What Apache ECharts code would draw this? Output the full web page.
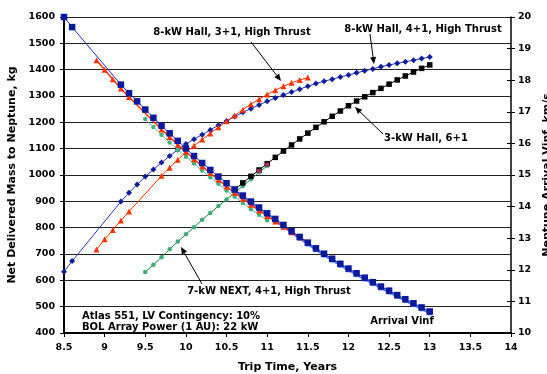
<!DOCTYPE html>
<html>
<head>
<meta charset="utf-8">
<script src="https://cdn.jsdelivr.net/npm/echarts@6/dist/echarts.min.js"></script>
<style>
  html, body { margin: 0; padding: 0; background: #fff; }
  #chart { width: 547px; height: 374px; }
</style>
</head>
<body>
<div id="chart"></div>
<script>
// Trip time (years) and delivered mass (kg) / arrival Vinf (km/s) per configuration

// 8-kW Hall, 4+1, High Thrust
const t41 = [8.5, 8.6, 9.2, 9.3, 9.4, 9.5, 9.6, 9.7, 9.8, 9.9, 10.0, 10.1, 10.2, 10.3, 10.4, 10.5,
  10.6, 10.7, 10.8, 10.9, 11.0, 11.1, 11.2, 11.3, 11.4, 11.5, 11.6, 11.7, 11.8, 11.9, 12.0, 12.1,
  12.2, 12.3, 12.4, 12.5, 12.6, 12.7, 12.8, 12.9, 13.0];
const mass41 = [633, 673, 899, 933, 964, 994, 1021, 1047, 1072, 1096, 1118, 1136, 1153, 1171, 1189, 1205,
  1222, 1238, 1252, 1266, 1280, 1292, 1304, 1315, 1326, 1337, 1347, 1356, 1364, 1372, 1380, 1388,
  1396, 1403, 1411, 1418, 1424, 1430, 1436, 1442, 1448];
const vinf41 = [20.0, 19.68, 17.86, 17.59, 17.33, 17.07, 16.81, 16.56, 16.32, 16.08, 15.84, 15.60, 15.38, 15.16, 14.95, 14.74,
  14.54, 14.35, 14.16, 13.97, 13.79, 13.61, 13.42, 13.22, 13.04, 12.86, 12.68, 12.51, 12.35, 12.19, 12.04, 11.89,
  11.75, 11.61, 11.47, 11.34, 11.20, 11.07, 10.94, 10.81, 10.68];

// 8-kW Hall, 3+1, High Thrust
const t31 = [8.9, 9.0, 9.1, 9.2, 9.3, 9.7, 9.8, 9.9, 10.0, 10.1, 10.2, 10.3, 10.4, 10.5, 10.6, 10.7,
  10.8, 10.9, 11.0, 11.1, 11.2, 11.3, 11.4, 11.5];
const mass31 = [717, 756, 791, 827, 861, 997, 1028, 1058, 1087, 1111, 1135, 1158, 1181, 1204, 1226, 1248,
  1269, 1288, 1306, 1322, 1337, 1350, 1361, 1370];
const vinf31 = [18.63, 18.33, 18.03, 17.74, 17.47, 16.44, 16.20, 15.96, 15.73, 15.50, 15.28, 15.06, 14.85, 14.64, 14.44, 14.25,
  14.06, 13.88, 13.70, 13.53, 13.36, 13.19, 13.03, 12.87];

// 7-kW NEXT, 4+1, High Thrust
const tNext = [9.5, 9.6, 9.7, 9.8, 9.9, 10.0, 10.1, 10.2, 10.3, 10.4, 10.5, 10.6, 10.7, 10.8, 10.9, 11.0];
const massNext = [632, 659, 688, 718, 747, 775, 802, 830, 856, 882, 907, 932, 958, 984, 1010, 1035];
const vinfNext = [16.77, 16.52, 16.27, 16.03, 15.80, 15.58, 15.36, 15.14, 14.93, 14.72, 14.51, 14.31, 14.11, 13.92, 13.74, 13.57];
// NEXT end points drawn in magenta
const tNextEnd = [10.9, 11.0];
const massNextEnd = [1015, 1040];

// 3-kW Hall, 6+1
const t61 = [10.6, 10.7, 10.8, 10.9, 11.0, 11.1, 11.2, 11.3, 11.4, 11.5, 11.6, 11.7, 11.8, 11.9, 12.0, 12.1,
  12.2, 12.3, 12.4, 12.5, 12.6, 12.7, 12.8, 12.9, 13.0];
const mass61 = [945, 970, 995, 1019, 1043, 1067, 1091, 1114, 1137, 1159, 1181, 1202, 1223, 1243, 1263, 1281,
  1297, 1313, 1329, 1345, 1361, 1376, 1391, 1405, 1418];
const vinf61 = [14.49, 14.30, 14.11, 13.92, 13.74, 13.56, 13.37, 13.17, 12.99, 12.81, 12.63, 12.46, 12.30, 12.14, 11.99, 11.84,
  11.70, 11.56, 11.42, 11.29, 11.15, 11.02, 10.89, 10.76, 10.63];

// Axis ticks
const xTicks = { min: 8.5, max: 14, step: 0.5 };
const massTicks = { min: 400, max: 1600, step: 100 };
const vinfTicks = { min: 10, max: 20, step: 1 };

const pairs = (xs, ys) => xs.map((x, i) => [x, ys[i]]);
const plain = v => String(v);

const FONT = 'DejaVu Sans';
const chart = echarts.init(document.getElementById('chart'), null, { renderer: 'canvas' });

const tickLabel = { fontFamily: FONT, fontWeight: 'bold', fontSize: 9.5, color: '#000', formatter: plain };
const axisName = { fontFamily: FONT, fontWeight: 'bold', fontSize: 11, color: '#000' };

chart.setOption({
  animation: false,
  backgroundColor: '#fff',
  grid: { left: 64, right: 36, top: 17, bottom: 41, containLabel: false, outerBoundsMode: 'none' },
  xAxis: {
    type: 'value', min: xTicks.min, max: xTicks.max, interval: xTicks.step,
    name: 'Trip Time, Years', nameLocation: 'middle', nameGap: 29, nameTextStyle: axisName,
    axisLine: { lineStyle: { color: '#000', width: 2 } },
    axisTick: { show: true, length: 4, lineStyle: { color: '#000' } },
    axisLabel: Object.assign({ margin: 10 }, tickLabel),
    splitLine: { show: false }
  },
  yAxis: [
    {
      type: 'value', min: massTicks.min, max: massTicks.max, interval: massTicks.step, position: 'left',
      name: 'Net Delivered Mass to Neptune, kg', nameLocation: 'middle', nameGap: 39, nameRotate: 90,
      nameTextStyle: axisName,
      axisLine: { show: true, lineStyle: { color: '#000', width: 2 } },
      axisTick: { show: true, length: 4, lineStyle: { color: '#000' } },
      axisLabel: Object.assign({ margin: 9 }, tickLabel),
      splitLine: { show: true, lineStyle: { color: '#222', width: 1 } }
    },
    {
      type: 'value', min: vinfTicks.min, max: vinfTicks.max, interval: vinfTicks.step, position: 'right',
      name: 'Neptune Arrival Vinf, km/s', nameLocation: 'middle', nameGap: 31, nameRotate: 90,
      nameTextStyle: axisName,
      axisLine: { show: true, lineStyle: { color: '#000', width: 1.5 } },
      axisTick: { show: true, length: 4, lineStyle: { color: '#000' } },
      axisLabel: Object.assign({ margin: 7 }, tickLabel),
      splitLine: { show: false }
    },
    {
      // inward half of the crossing tick marks on the right axis
      type: 'value', min: vinfTicks.min, max: vinfTicks.max, interval: vinfTicks.step, position: 'right',
      axisLine: { show: false },
      axisTick: { show: true, inside: true, length: 4, lineStyle: { color: '#000' } },
      axisLabel: { show: false },
      splitLine: { show: false }
    }
  ],
  series: [
    {
      name: '8-kW Hall, 4+1 mass', type: 'line', yAxisIndex: 0, data: pairs(t41, mass41),
      lineStyle: { color: '#2538B0', width: 1 }, symbol: 'diamond', symbolSize: 6,
      itemStyle: { color: '#0D1F9A' }, z: 3
    },
    {
      name: '8-kW Hall, 3+1 mass', type: 'line', yAxisIndex: 0, data: pairs(t31, mass31),
      lineStyle: { color: '#FF3300', width: 1 }, symbol: 'triangle', symbolSize: 6,
      itemStyle: { color: '#FF3300' }, z: 3
    },
    {
      name: '7-kW NEXT mass', type: 'line', yAxisIndex: 0, data: pairs(tNext, massNext),
      lineStyle: { color: '#138A2E', width: 1 }, symbol: 'circle', symbolSize: 4.5,
      itemStyle: { color: '#3DAA78' }, z: 3
    },
    {
      name: '3-kW Hall, 6+1 mass', type: 'line', yAxisIndex: 0, data: pairs(t61, mass61),
      lineStyle: { color: '#000', width: 1 }, symbol: 'rect', symbolSize: 5.5,
      itemStyle: { color: '#000' }, z: 3
    },
    {
      name: 'NEXT end points', type: 'scatter', yAxisIndex: 0, data: pairs(tNextEnd, massNextEnd),
      symbol: 'circle', symbolSize: 4.5, itemStyle: { color: '#E8307E' }, z: 4
    },
    {
      name: '7-kW NEXT Vinf', type: 'line', yAxisIndex: 1, data: pairs(tNext, vinfNext),
      lineStyle: { color: '#5CC08A', width: 1 }, symbol: 'circle', symbolSize: 4.5,
      itemStyle: { color: '#46B07E' }, z: 3
    },
    {
      name: '3-kW Hall, 6+1 Vinf', type: 'line', yAxisIndex: 1, data: pairs(t61, vinf61),
      lineStyle: { color: '#4C78FF', width: 2 }, symbol: 'rect', symbolSize: 4.5,
      itemStyle: { color: '#4C78FF' }, z: 3
    },
    {
      name: '8-kW Hall, 3+1 Vinf', type: 'line', yAxisIndex: 1, data: pairs(t31, vinf31),
      lineStyle: { color: '#FF3300', width: 1.5 }, symbol: 'triangle', symbolSize: 6,
      itemStyle: { color: '#FF3300' }, z: 3
    },
    {
      name: 'Arrival Vinf', type: 'line', yAxisIndex: 1, data: pairs(t41, vinf41),
      lineStyle: { color: '#1530B8', width: 1 }, symbol: 'rect', symbolSize: 6.5,
      itemStyle: { color: '#0A1A9C' }, z: 4
    }
  ]
});

// Callout text and leader arrows
function arrow(x1, y1, x2, y2) {
  const ang = Math.atan2(y2 - y1, x2 - x1);
  const len = 7, half = 3;
  const bx = x2 - len * Math.cos(ang), by = y2 - len * Math.sin(ang);
  const px = -Math.sin(ang) * half, py = Math.cos(ang) * half;
  return [
    { type: 'line', shape: { x1: x1, y1: y1, x2: bx, y2: by }, style: { stroke: '#000', lineWidth: 1 }, z: 10 },
    { type: 'polygon', shape: { points: [[x2, y2], [bx + px, by + py], [bx - px, by - py]] },
      style: { fill: '#000' }, z: 10 }
  ];
}
function label(text, x, y, align) {
  return { type: 'text', x: x, y: y, z: 10,
    style: { text: text, fontFamily: FONT, fontWeight: 'bold', fontSize: 10, fill: '#000',
      align: align || 'center', verticalAlign: 'middle' } };
}

const graphics = [
  label('8-kW Hall, 3+1, High Thrust', 232, 32),
  label('8-kW Hall, 4+1, High Thrust', 423, 29),
  label('3-kW Hall, 6+1', 426, 138),
  label('7-kW NEXT, 4+1, High Thrust', 269, 291),
  label('Atlas 551, LV Contingency: 10%', 82, 316, 'left'),
  label('BOL Array Power (1 AU): 22 kW', 82, 327, 'left'),
  label('Arrival Vinf', 402, 321)
].concat(
  arrow(251, 42, 281, 81),
  arrow(370, 34, 374, 64),
  arrow(383, 134, 355, 107),
  arrow(202, 284, 181, 247)
);
chart.setOption({ graphic: graphics });
</script>
</body>
</html>
